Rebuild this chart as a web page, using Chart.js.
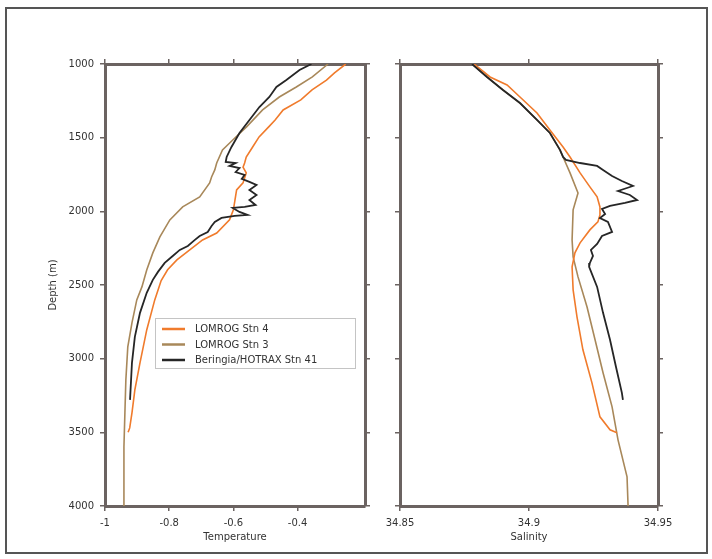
<!DOCTYPE html>
<html><head><meta charset="utf-8">
<script src="https://cdn.jsdelivr.net/npm/chart.js@4.4.1/dist/chart.umd.min.js"></script>
<style>
html,body{margin:0;padding:0;background:#fff;}
#wrap{position:relative;width:712px;height:559px;overflow:hidden;background:#fff;}
canvas{position:absolute;left:0;top:0;}
#frame{position:absolute;left:5px;top:7px;width:703px;height:547px;box-sizing:border-box;border:2px solid #555;pointer-events:none;}
</style></head><body>
<div id="wrap">
<canvas id="c1" width="712" height="559"></canvas>
<canvas id="c2" width="712" height="559"></canvas>
<div id="frame"></div>
</div>
<script>
// ---------- data ----------
const seriesNames = ['LOMROG Stn 4', 'LOMROG Stn 3', 'Beringia/HOTRAX Stn 41'];
const depthTicks = [1000, 1500, 2000, 2500, 3000, 3500, 4000];
const tempTicks = [-1, -0.8, -0.6, -0.4];
const salTicks = [34.85, 34.9, 34.95];

// Temperature profiles
const tDepthStn4 = [1000,1060,1109,1176,1244,1312,1380,1427,1495,1563,1631,1672,1700,1739,1807,1855,1923,1990,2058,2147,2194,2262,2330,2397,2470,2601,2805,3028,3212,3368,3470,3500];
const tempStn4   = [-0.25,-0.285,-0.31,-0.355,-0.39,-0.445,-0.47,-0.49,-0.52,-0.54,-0.56,-0.565,-0.57,-0.56,-0.57,-0.59,-0.595,-0.60,-0.612,-0.652,-0.696,-0.736,-0.776,-0.805,-0.825,-0.845,-0.870,-0.891,-0.907,-0.916,-0.923,-0.928];

const tDepthStn3 = [1000,1088,1156,1224,1312,1427,1516,1583,1672,1719,1767,1807,1902,1970,2058,2174,2282,2398,2513,2601,2757,2920,3144,3368,3598,4000];
const tempStn3   = [-0.305,-0.354,-0.404,-0.457,-0.509,-0.559,-0.602,-0.634,-0.652,-0.658,-0.668,-0.674,-0.705,-0.758,-0.798,-0.829,-0.851,-0.870,-0.885,-0.901,-0.916,-0.929,-0.935,-0.938,-0.941,-0.941];

const tDepthStn41 = [1000,1041,1109,1156,1224,1292,1380,1468,1563,1631,1665,1672,1692,1706,1733,1753,1780,1800,1821,1855,1889,1923,1957,1970,1977,2004,2024,2031,2045,2072,2099,2140,2167,2194,2235,2262,2303,2350,2411,2465,2553,2689,2852,3028,3280];
const tempStn41   = [-0.357,-0.394,-0.435,-0.466,-0.488,-0.519,-0.550,-0.581,-0.606,-0.621,-0.624,-0.593,-0.612,-0.581,-0.593,-0.565,-0.574,-0.550,-0.528,-0.550,-0.528,-0.550,-0.531,-0.565,-0.602,-0.581,-0.556,-0.596,-0.637,-0.658,-0.668,-0.680,-0.705,-0.720,-0.742,-0.767,-0.789,-0.814,-0.835,-0.851,-0.870,-0.891,-0.907,-0.916,-0.922];

// Salinity profiles
const sDepthStn4 = [1000,1088,1142,1224,1332,1448,1563,1631,1739,1834,1902,1970,2024,2072,2126,2214,2282,2377,2533,2716,2940,3164,3395,3483,3503];
const salStn4    = [34.8787,34.8849,34.8915,34.8965,34.9031,34.9081,34.9132,34.9159,34.9198,34.9236,34.9264,34.9275,34.9275,34.9267,34.9236,34.9198,34.9178,34.9167,34.9171,34.9186,34.9209,34.9244,34.9275,34.9314,34.9341];

const sDepthStn3 = [1000,1088,1176,1265,1380,1468,1583,1631,1739,1875,1990,2194,2309,2445,2649,2872,3096,3327,3551,3802,4000];
const salStn3    = [34.8779,34.8837,34.8899,34.8965,34.9031,34.9081,34.9120,34.9132,34.9159,34.9190,34.9171,34.9167,34.9171,34.9190,34.9225,34.9256,34.9287,34.9322,34.9345,34.9380,34.9384];

const sDepthStn41 = [1000,1088,1176,1265,1380,1468,1583,1631,1651,1672,1692,1719,1760,1794,1828,1862,1889,1923,1943,1963,1984,2018,2045,2072,2140,2167,2221,2262,2303,2350,2377,2513,2689,2872,3055,3232,3280];
const salStn41    = [34.8779,34.8837,34.8899,34.8965,34.9031,34.9081,34.9120,34.9132,34.9143,34.9198,34.9264,34.9287,34.9322,34.9360,34.9403,34.9345,34.9391,34.9419,34.9372,34.9314,34.9283,34.9295,34.9275,34.9306,34.9322,34.9283,34.9264,34.9240,34.9248,34.9236,34.9233,34.9264,34.9287,34.9314,34.9337,34.9360,34.9364];

// ---------- styling ----------
const colors = ['#f07b2c', '#a8885a', '#262626'];
const widths = [1.6, 1.6, 1.8];
const drawOrder = [2, 3, 1];
const axisColor = '#6b6361';
const textColor = '#333333';
const fontFam = '"DejaVu Sans", "Liberation Sans", sans-serif';
const tickFont = {family: fontFam, size: 10};

function pairs(xs, ys) { return xs.map((x, i) => ({x: x, y: ys[i]})); }
function makeDatasets(list) {
  return list.map((d, i) => ({
    label: seriesNames[i], data: pairs(d[0], d[1]),
    borderColor: colors[i], backgroundColor: colors[i], borderWidth: widths[i],
    showLine: true, pointRadius: 0, pointHoverRadius: 0, tension: 0, fill: false,
    order: drawOrder[i], xAxisID: 'x', yAxisID: 'y'
  }));
}
function setTicks(arr) { return s => { s.ticks = arr.map(v => ({value: v})); }; }
const grid = {display: true, drawOnChartArea: false, drawTicks: true, tickLength: 5, color: axisColor, lineWidth: 1.5};
const border = {display: true, color: axisColor, width: 3};

function xScale(min, max, ticksArr, title, pos, h) {
  const top = pos === 'top';
  return {
    type: 'linear', axis: 'x', position: pos, min: min, max: max,
    afterBuildTicks: setTicks(ticksArr),
    ticks: {display: !top, callback: v => String(v), padding: 6, font: tickFont, color: textColor, maxRotation: 0, autoSkip: false},
    grid: grid, border: border,
    title: {display: !top && !!title, text: title, font: {family: fontFam, size: 10}, color: textColor, padding: 0},
    afterFit: s => { s.height = h; }
  };
}
function yScale(pos, labels, w, title) {
  return {
    type: 'linear', axis: 'y', position: pos, reverse: true, min: 1000, max: 4000,
    afterBuildTicks: setTicks(depthTicks),
    ticks: {display: labels, callback: v => String(v), padding: 6, font: tickFont, color: textColor, autoSkip: false},
    grid: grid, border: border,
    title: {display: !!title, text: title || '', font: {family: fontFam, size: 10}, color: textColor, padding: 0},
    afterFit: s => { s.width = w; }
  };
}

const legendPlugin = {
  id: 'boxLegend',
  afterDraw(chart) {
    const ctx = chart.ctx;
    const x = 155, y = 318, w = 200, h = 50;
    ctx.save();
    ctx.fillStyle = '#fff'; ctx.fillRect(x, y, w, h);
    ctx.strokeStyle = '#c4c4c4'; ctx.lineWidth = 1; ctx.strokeRect(x + 0.5, y + 0.5, w, h);
    chart.data.datasets.forEach((ds, i) => {
      const ly = y + 11 + i * 15.5;
      ctx.strokeStyle = ds.borderColor; ctx.lineWidth = 2.5;
      ctx.beginPath(); ctx.moveTo(x + 7, ly); ctx.lineTo(x + 30, ly); ctx.stroke();
      ctx.fillStyle = textColor; ctx.font = '10px ' + fontFam; ctx.textBaseline = 'middle'; ctx.textAlign = 'left';
      ctx.fillText(ds.label, x + 40, ly + 0.5);
    });
    ctx.restore();
  }
};

const common = {
  responsive: false, animation: false, devicePixelRatio: 1,
  plugins: {legend: {display: false}, tooltip: {enabled: false}},
  events: []
};

new Chart(document.getElementById('c1'), {
  type: 'scatter',
  data: {datasets: makeDatasets([[tempStn4, tDepthStn4], [tempStn3, tDepthStn3], [tempStn41, tDepthStn41]])},
  options: Object.assign({}, common, {
    layout: {padding: {left: 47, right: 342, top: 59, bottom: 16}},
    scales: {
      x: xScale(-1, -0.19, tempTicks, 'Temperature', 'bottom', 37),
      xTop: xScale(-1, -0.19, tempTicks, '', 'top', 5),
      y: yScale('left', true, 58, 'Depth (m)'),
      yRight: yScale('right', false, 5, '')
    }
  }),
  plugins: [legendPlugin]
});

new Chart(document.getElementById('c2'), {
  type: 'scatter',
  data: {datasets: makeDatasets([[salStn4, sDepthStn4], [salStn3, sDepthStn3], [salStn41, sDepthStn41]])},
  options: Object.assign({}, common, {
    layout: {padding: {left: 395, right: 49, top: 59, bottom: 16}},
    scales: {
      x: xScale(34.85, 34.95, salTicks, 'Salinity', 'bottom', 37),
      xTop: xScale(34.85, 34.95, salTicks, '', 'top', 5),
      y: yScale('left', false, 5, ''),
      yRight: yScale('right', false, 5, '')
    }
  })
});
</script>
</body></html>
